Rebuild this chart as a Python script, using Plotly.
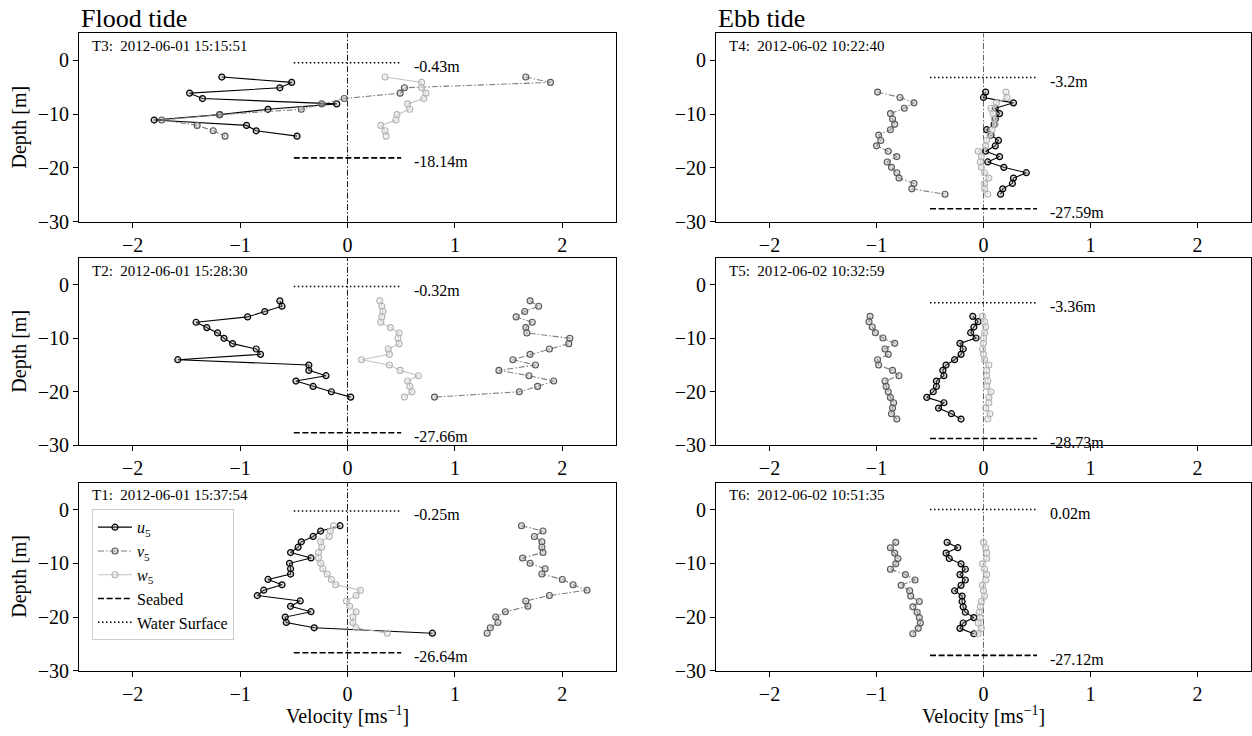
import plotly.graph_objects as go

# ---------------- data ----------------
panel_ids = ["T3", "T4", "T2", "T5", "T1", "T6"]
panel_times = ["2012-06-01 15:15:51", "2012-06-02 10:22:40",
               "2012-06-01 15:28:30", "2012-06-02 10:32:59",
               "2012-06-01 15:37:54", "2012-06-02 10:51:35"]
surface_lvl = [-0.43, -3.2, -0.32, -3.36, -0.25, 0.02]
seabed_lvl = [-18.14, -27.59, -27.66, -28.73, -26.64, -27.12]

depth_T3 = [-3.1, -4.1, -5.1, -6.1, -7.1, -8.1, -9.1, -10.1, -11.1, -12.1, -13.1, -14.1]
u_T3 = [-1.17, -0.52, -0.63, -1.47, -1.35, -0.10, -0.74, -1.19, -1.80, -0.94, -0.85, -0.47]
v_T3 = [1.66, 1.89, 0.53, 0.49, -0.03, -0.24, -0.43, -1.19, -1.73, -1.40, -1.25, -1.14]
w_T3 = [0.35, 0.69, 0.69, 0.73, 0.71, 0.56, 0.58, 0.46, 0.45, 0.31, 0.35, 0.36]

depth_T2 = [-3, -4, -5, -6, -7, -8, -9, -10, -11, -12, -13, -14, -15, -16, -17, -18, -19, -20, -21]
u_T2 = [-0.63, -0.61, -0.77, -0.93, -1.41, -1.31, -1.21, -1.15, -1.07, -0.85, -0.81, -1.58,
        -0.36, -0.36, -0.20, -0.48, -0.32, -0.15, 0.03]
v_T2 = [1.70, 1.78, 1.65, 1.57, 1.72, 1.66, 1.67, 2.07, 2.06, 1.88, 1.70, 1.54,
        1.75, 1.41, 1.69, 1.92, 1.77, 1.60, 0.81]
w_T2 = [0.30, 0.32, 0.33, 0.32, 0.31, 0.40, 0.48, 0.47, 0.48, 0.38, 0.39, 0.13,
        0.39, 0.49, 0.66, 0.56, 0.58, 0.60, 0.53]

depth_T1 = [-3, -4, -5, -6, -7, -8, -9, -10, -11, -12, -13, -14, -15, -16, -17, -18, -19,
            -20, -21, -22, -23]
u_T1 = [-0.07, -0.25, -0.32, -0.43, -0.46, -0.53, -0.34, -0.54, -0.53, -0.53, -0.74, -0.61,
        -0.78, -0.84, -0.44, -0.53, -0.34, -0.58, -0.57, -0.31, 0.79]
v_T1 = [1.62, 1.82, 1.74, 1.81, 1.81, 1.82, 1.63, 1.70, 1.84, 1.81, 2.00, 2.10, 2.23, 1.88,
        1.66, 1.68, 1.47, 1.38, 1.40, 1.33, 1.30]
w_T1 = [-0.13, -0.16, -0.17, -0.25, -0.24, -0.27, -0.27, -0.25, -0.23, -0.19, -0.15, -0.11,
        0.12, 0.08, -0.01, 0.02, 0.08, 0.05, 0.05, 0.08, 0.37]

depth_T4 = [-5.9, -6.9, -7.9, -8.9, -9.9, -10.9, -11.9, -12.9, -13.9, -14.9, -15.9, -16.9,
            -17.9, -18.9, -19.9, -20.9, -21.9, -22.9, -23.9, -24.9]
u_T4 = [0.02, 0.0, 0.28, 0.11, 0.15, 0.11, 0.10, 0.03, 0.07, 0.14, 0.11, 0.02, 0.15, 0.04,
        0.19, 0.40, 0.28, 0.27, 0.18, 0.16]
v_T4 = [-0.99, -0.78, -0.65, -0.74, -0.87, -0.85, -0.83, -0.87, -0.98, -0.96, -1.00, -0.89,
        -0.81, -0.90, -0.86, -0.81, -0.79, -0.65, -0.67, -0.36]
w_T4 = [0.21, 0.22, 0.12, 0.07, 0.09, 0.10, 0.11, 0.08, 0.06, 0.03, 0.02, -0.05, -0.02,
        -0.03, -0.02, 0.01, 0.05, 0.01, 0.01, 0.04]

depth_T5 = [-5.9, -6.9, -7.9, -8.95, -9.95, -10.95, -12.0, -13.0, -14.0, -15.0, -16.0, -17.0,
            -18.0, -19.0, -20.0, -21.05, -22.05, -23.05, -24.1, -25.1]
u_T5 = [-0.10, -0.05, -0.09, -0.12, -0.07, -0.22, -0.19, -0.21, -0.27, -0.35, -0.38, -0.37,
        -0.44, -0.44, -0.47, -0.53, -0.37, -0.42, -0.30, -0.21]
v_T5 = [-1.06, -1.07, -1.04, -1.01, -0.94, -0.83, -0.92, -0.89, -0.99, -0.98, -0.85, -0.79,
        -0.92, -0.91, -0.89, -0.87, -0.84, -0.85, -0.86, -0.81]
w_T5 = [-0.01, 0.01, 0.02, 0.01, 0.0, 0.0, -0.01, 0.0, 0.01, 0.05, 0.03, 0.03, 0.04, 0.03,
        0.07, 0.05, 0.05, 0.02, 0.06, 0.04]

depth_T6 = [-6.1, -7.1, -8.1, -9.1, -10.1, -11.1, -12.1, -13.1, -14.1, -15.1, -16.1, -17.1,
            -18.1, -19.1, -20.1, -21.1, -22.1, -23.1]
u_T6 = [-0.34, -0.24, -0.35, -0.32, -0.21, -0.17, -0.22, -0.17, -0.21, -0.27, -0.20, -0.20,
        -0.19, -0.17, -0.09, -0.19, -0.22, -0.09]
v_T6 = [-0.82, -0.87, -0.83, -0.80, -0.82, -0.87, -0.73, -0.64, -0.77, -0.69, -0.68, -0.60,
        -0.66, -0.62, -0.60, -0.59, -0.61, -0.66]
w_T6 = [0.0, 0.02, 0.03, 0.03, -0.01, 0.01, 0.03, 0.02, -0.01, 0.0, 0.01, -0.02, -0.03,
        -0.04, -0.03, -0.05, -0.02, -0.05]

depths = [depth_T3, depth_T4, depth_T2, depth_T5, depth_T1, depth_T6]
u_all = [u_T3, u_T4, u_T2, u_T5, u_T1, u_T6]
v_all = [v_T3, v_T4, v_T2, v_T5, v_T1, v_T6]
w_all = [w_T3, w_T4, w_T2, w_T5, w_T1, w_T6]

x_ticks = [-2, -1, 0, 1, 2]
y_ticks = [0, -10, -20, -30]
col_titles = ["Flood tide", "Ebb tide"]
LEGEND_PANEL = 4  # T1

# ---------------- style ----------------
FIG_W, FIG_H = 1252, 736
FONT = "Liberation Serif"
col_px = [(79, 616), (716, 1251)]
row_px = [(34, 225), (262, 452), (490, 681)]
LINE_HALF = 0.5
LABEL_X = 0.6


def px_x(p):
    return p / FIG_W


def px_y(p):
    return 1 - p / FIG_H


fig = go.Figure()
layout_axes = {}
annotations = []
shapes = []

for i in range(6):
    r, c = divmod(i, 2)
    sfx = "" if i == 0 else str(i + 1)
    xa, ya = "x" + sfx, "y" + sfx
    show = (i == LEGEND_PANEL)
    d = depths[i]

    fig.add_trace(go.Scatter(
        x=u_all[i], y=d, xaxis=xa, yaxis=ya, mode="lines+markers",
        name="<i>u</i><sub>5</sub>", showlegend=show, legendrank=1,
        line=dict(color="black", width=1.1),
        marker=dict(symbol="circle", size=6, color="rgba(130,130,130,0.35)",
                    line=dict(color="black", width=1.2))))
    fig.add_trace(go.Scatter(
        x=v_all[i], y=d, xaxis=xa, yaxis=ya, mode="lines+markers",
        name="<i>v</i><sub>5</sub>", showlegend=show, legendrank=2,
        line=dict(color="#7f7f7f", width=1.1, dash="6px,2px,1.5px,2px"),
        marker=dict(symbol="circle", size=6, color="rgba(170,170,170,0.4)",
                    line=dict(color="#5a5a5a", width=1.1))))
    fig.add_trace(go.Scatter(
        x=w_all[i], y=d, xaxis=xa, yaxis=ya, mode="lines+markers",
        name="<i>w</i><sub>5</sub>", showlegend=show, legendrank=3,
        line=dict(color="#c4c4c4", width=1.1),
        marker=dict(symbol="circle", size=6, color="rgba(230,230,230,0.4)",
                    line=dict(color="#b4b4b4", width=1.1))))
    fig.add_trace(go.Scatter(
        x=[-LINE_HALF, LINE_HALF], y=[seabed_lvl[i]] * 2, xaxis=xa, yaxis=ya,
        mode="lines", name="Seabed", showlegend=show, legendrank=4,
        line=dict(color="black", width=1.6, dash="6px,2.6px")))
    fig.add_trace(go.Scatter(
        x=[-LINE_HALF, LINE_HALF], y=[surface_lvl[i]] * 2, xaxis=xa, yaxis=ya,
        mode="lines", name="Water Surface", showlegend=show, legendrank=5,
        line=dict(color="black", width=1.5, dash="1.5px,2.5px")))

    # zero line
    shapes.append(dict(type="line", xref=xa, yref=ya + " domain", x0=0, x1=0, y0=0, y1=1,
                       line=dict(color="black" if c == 0 else "#555555", width=0.9,
                                 dash="6px,2px,1.5px,2px"), layer="below"))

    # surface / seabed labels
    for lvl in (surface_lvl[i], seabed_lvl[i]):
        annotations.append(dict(x=LABEL_X, y=lvl, xref=xa, yref=ya, text=f"{lvl}m",
                                showarrow=False, xanchor="left", yanchor="middle", yshift=-4,
                                font=dict(family=FONT, size=16, color="black")))
    # panel label
    annotations.append(dict(x=0.02, y=0.985, xref=xa + " domain", yref=ya + " domain",
                            text=f"{panel_ids[i]}:  {panel_times[i]}", showarrow=False,
                            xanchor="left", yanchor="top",
                            font=dict(family=FONT, size=15, color="black")))

    axis_common = dict(showline=True, linecolor="black", linewidth=1, mirror=True,
                       ticks="outside", ticklen=5, tickwidth=1, tickcolor="black",
                       showgrid=False, zeroline=False,
                       tickfont=dict(family=FONT, size=20, color="black"))
    layout_axes["xaxis" + sfx] = dict(
        domain=[px_x(col_px[c][0]), px_x(col_px[c][1])], anchor=ya,
        range=[-2.5, 2.5], tickvals=x_ticks, **axis_common)
    layout_axes["yaxis" + sfx] = dict(
        domain=[px_y(row_px[r][1]), px_y(row_px[r][0])], anchor=xa,
        range=[-30, 5], tickvals=y_ticks, **axis_common)

# column titles and axis titles
for c in range(2):
    annotations.append(dict(x=px_x(col_px[c][0]), y=px_y(18.5), xref="paper", yref="paper",
                            text=col_titles[c], showarrow=False, xanchor="left",
                            yanchor="middle", font=dict(family=FONT, size=26, color="black")))
    annotations.append(dict(x=px_x((col_px[c][0] + col_px[c][1]) / 2), y=px_y(726),
                            xref="paper", yref="paper", text="Velocity [ms<sup>−1</sup>]",
                            showarrow=False, xanchor="center", yanchor="middle",
                            font=dict(family=FONT, size=20, color="black")))
for r in range(3):
    annotations.append(dict(x=px_x(20), y=px_y((row_px[r][0] + row_px[r][1]) / 2),
                            xref="paper", yref="paper", text="Depth [m]", textangle=-90,
                            showarrow=False, xanchor="center", yanchor="middle",
                            font=dict(family=FONT, size=20, color="black")))

fig.update_layout(
    width=FIG_W, height=FIG_H, margin=dict(l=0, r=0, t=0, b=0),
    paper_bgcolor="white", plot_bgcolor="white",
    font=dict(family=FONT, color="black"),
    showlegend=True,
    legend=dict(x=px_x(92), y=px_y(517), xanchor="left", yanchor="top",
                bgcolor="white", bordercolor="#cccccc", borderwidth=1,
                font=dict(family=FONT, size=16, color="black"),
                itemwidth=34, tracegroupgap=0),
    annotations=annotations, shapes=shapes, **layout_axes)

fig.write_html("out.html", config={"displayModeBar": False},
               post_script="document.body.style.margin='0';"
                           "document.body.style.overflow='hidden';")
